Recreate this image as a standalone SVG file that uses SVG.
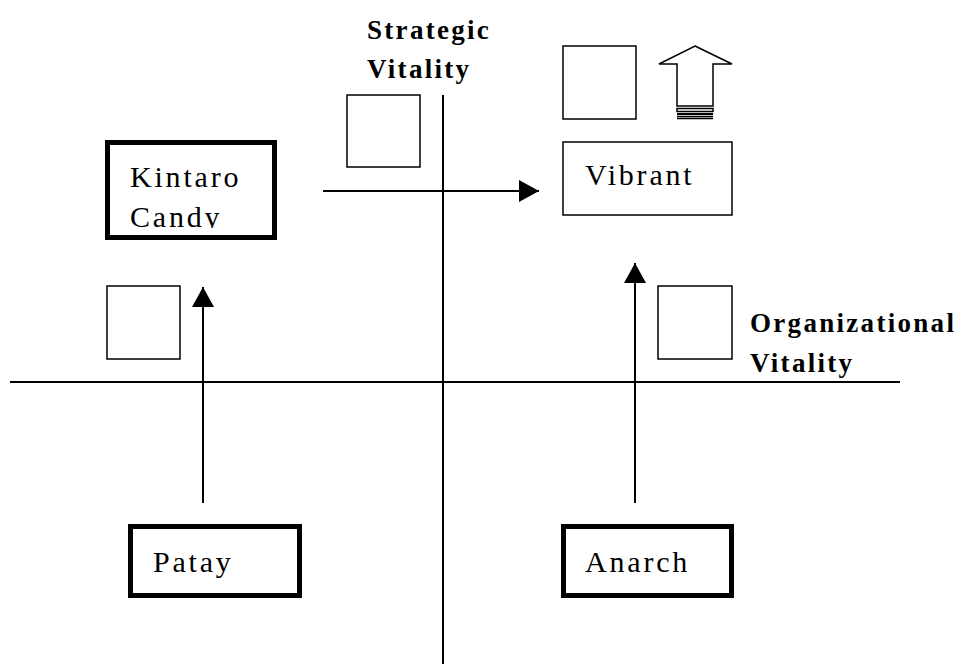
<svg xmlns="http://www.w3.org/2000/svg" width="961" height="664" viewBox="0 0 961 664">
<style>
.ln{stroke:#000;stroke-width:2;fill:none}
.box{fill:#fff;stroke:#000;stroke-width:1.5}
.thick{fill:#fff;stroke:#000;stroke-width:5}
.lbl{font-family:"Liberation Serif","Times New Roman",serif;font-size:30px;letter-spacing:2.8px;fill:#000}
.axis{font-family:"Liberation Serif","Times New Roman",serif;font-size:27px;font-weight:bold;letter-spacing:2.3px;fill:#000}
</style>
<defs>
<marker id="ah" markerWidth="20" markerHeight="22" refX="20" refY="11" orient="auto" markerUnits="userSpaceOnUse">
<path d="M0,0 L20,11 L0,22 Z" fill="#000"/>
</marker>
<clipPath id="kc"><rect x="110" y="145" width="162" height="83"/></clipPath>
</defs>
<g id="axes">
<line class="ln" x1="443" y1="95" x2="443" y2="664"/>
<line class="ln" x1="10" y1="382" x2="900" y2="382"/>
</g>
<g id="connectors">
<line class="ln" x1="323" y1="191" x2="539" y2="191" marker-end="url(#ah)"/>
<line class="ln" x1="203" y1="503" x2="203" y2="287" marker-end="url(#ah)"/>
<line class="ln" x1="635" y1="503" x2="635" y2="263" marker-end="url(#ah)"/>
</g>
<g id="label-strategic">
<text class="axis" x="367" y="39">Strategic</text>
<text class="axis" x="367" y="78">Vitality</text>
</g>
<g id="label-organizational">
<text class="axis" x="750" y="332">Organizational</text>
<text class="axis" x="750" y="372">Vitality</text>
</g>
<g id="sq1"><rect class="box" x="347" y="95" width="73" height="72"/></g>
<g id="sq2"><rect class="box" x="563" y="46" width="73" height="73"/></g>
<g id="sq3"><rect class="box" x="107" y="286" width="73" height="73"/></g>
<g id="sq4"><rect class="box" x="658" y="286" width="74" height="73"/></g>
<g id="blockarrow">
<path class="box" d="M695,46 L732,64 L713,64 L713,106 L677,106 L677,64 L659,64 Z"/>
<rect class="box" x="677" y="108.5" width="36" height="3"/>
<line x1="677" y1="114" x2="713" y2="114" stroke="#000" stroke-width="1.8"/>
<line x1="677" y1="116.5" x2="713" y2="116.5" stroke="#000" stroke-width="1.5"/>
<line x1="677" y1="118.5" x2="713" y2="118.5" stroke="#000" stroke-width="1.5"/>
</g>
<g id="vibrant">
<rect class="box" x="563" y="142" width="169" height="73"/>
<text class="lbl" x="585" y="185">Vibrant</text>
</g>
<g id="kintaro">
<rect class="thick" x="107.5" y="142.5" width="167" height="95"/>
<g clip-path="url(#kc)">
<text class="lbl" x="130" y="187">Kintaro</text>
<text class="lbl" x="130" y="227">Candy</text>
</g>
</g>
<g id="patay">
<rect class="thick" x="130.5" y="526.5" width="169" height="69"/>
<text class="lbl" x="153" y="572">Patay</text>
</g>
<g id="anarch">
<rect class="thick" x="563.5" y="526.5" width="168" height="69"/>
<text class="lbl" x="585" y="572">Anarch</text>
</g>
</svg>
